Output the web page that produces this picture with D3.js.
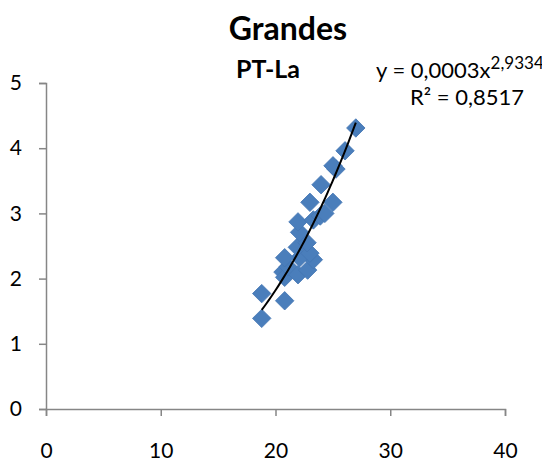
<!DOCTYPE html>
<html>
<head>
<meta charset="utf-8">
<script src="https://cdn.jsdelivr.net/npm/d3@7.9.0/dist/d3.min.js"></script>
<style>
  body { margin: 0; background: #fff; }
  text { font-family: Lato, "Open Sans", sans-serif; fill: #000; }
</style>
</head>
<body>
<svg id="chart" width="542" height="466"></svg>
<script>
// values
const xs = [18.8, 18.8, 20.8, 20.65, 20.8, 21.1, 21.96, 22.8, 23.3, 22.1, 20.8, 23.0, 21.9,
  22.75, 22.1, 21.96, 23.3, 23.9, 24.3, 25.0, 23.0, 23.97, 25.27, 25.01, 26.06, 27.0];
const ys = [1.39, 1.77, 1.66, 2.10, 2.02, 2.18, 2.06, 2.13, 2.29, 2.32, 2.32, 2.39, 2.48,
  2.55, 2.71, 2.87, 2.90, 2.96, 3.0, 3.17, 3.17, 3.44, 3.68, 3.73, 3.96, 4.31];
const xTicks = [0, 10, 20, 30, 40];
const yTicks = [0, 1, 2, 3, 4, 5];
// power trendline y = a * x^b
const trendA = 0.000278;
const trendB = 2.9334;

const svg = d3.select('#chart');
const x = d3.scaleLinear().domain([0, 40]).range([46, 505]);
const y = d3.scaleLinear().domain([0, 5]).range([409, 83]);
const axisColor = '#868686';

// y axis
const yAxis = svg.append('g').attr('transform', `translate(${x(0)},0)`)
  .call(d3.axisLeft(y).tickValues(yTicks).tickFormat(d3.format('d')).tickSize(7).tickPadding(17));
// x axis
const xAxis = svg.append('g').attr('transform', `translate(0,${y(0)})`)
  .call(d3.axisBottom(x).tickValues(xTicks).tickSize(7).tickPadding(27));
[yAxis, xAxis].forEach((g) => {
  g.select('.domain').attr('stroke', axisColor).attr('stroke-width', 1.5);
  g.selectAll('.tick line').attr('stroke', axisColor).attr('stroke-width', 1.5);
  g.selectAll('.tick text').style('font-size', '21px').attr('fill', '#000');
});

// points
const data = xs.map((d, i) => ({x: d, y: ys[i]}));
const marker = d3.symbol().type(d3.symbolSquare).size(170);
svg.append('g').selectAll('path').data(data).join('path')
  .attr('d', marker)
  .attr('transform', (d) => `translate(${x(d.x)},${y(d.y)}) rotate(45)`)
  .attr('fill', '#4a7ebb')
  .attr('stroke', '#4476b3')
  .attr('stroke-width', 0.8);

// trendline
const [x0, x1] = d3.extent(xs);
const curveXs = d3.range(0, 41).map((i) => x0 + (x1 - x0) * i / 40);
svg.append('path')
  .datum(curveXs)
  .attr('fill', 'none')
  .attr('stroke', '#000')
  .attr('stroke-width', 2)
  .attr('d', d3.line().x((d) => x(d)).y((d) => y(trendA * Math.pow(d, trendB))));

// titles
svg.append('text').attr('x', 288).attr('y', 40).attr('text-anchor', 'middle')
  .style('font-size', '32px').style('font-weight', 'bold').text('Grandes');
svg.append('text').attr('x', 268).attr('y', 78).attr('text-anchor', 'middle')
  .style('font-size', '25px').style('font-weight', 'bold').text('PT-La');

// equation
const eq = svg.append('text').attr('x', 376).attr('y', 78).style('font-size', '22px');
eq.append('tspan').text('y = 0,0003x');
eq.append('tspan').attr('dy', -9).style('font-size', '17px').text('2,9334');
svg.append('text').attr('x', 524).attr('y', 105).attr('text-anchor', 'end')
  .style('font-size', '22px').text('R² = 0,8517');
</script>
</body>
</html>
